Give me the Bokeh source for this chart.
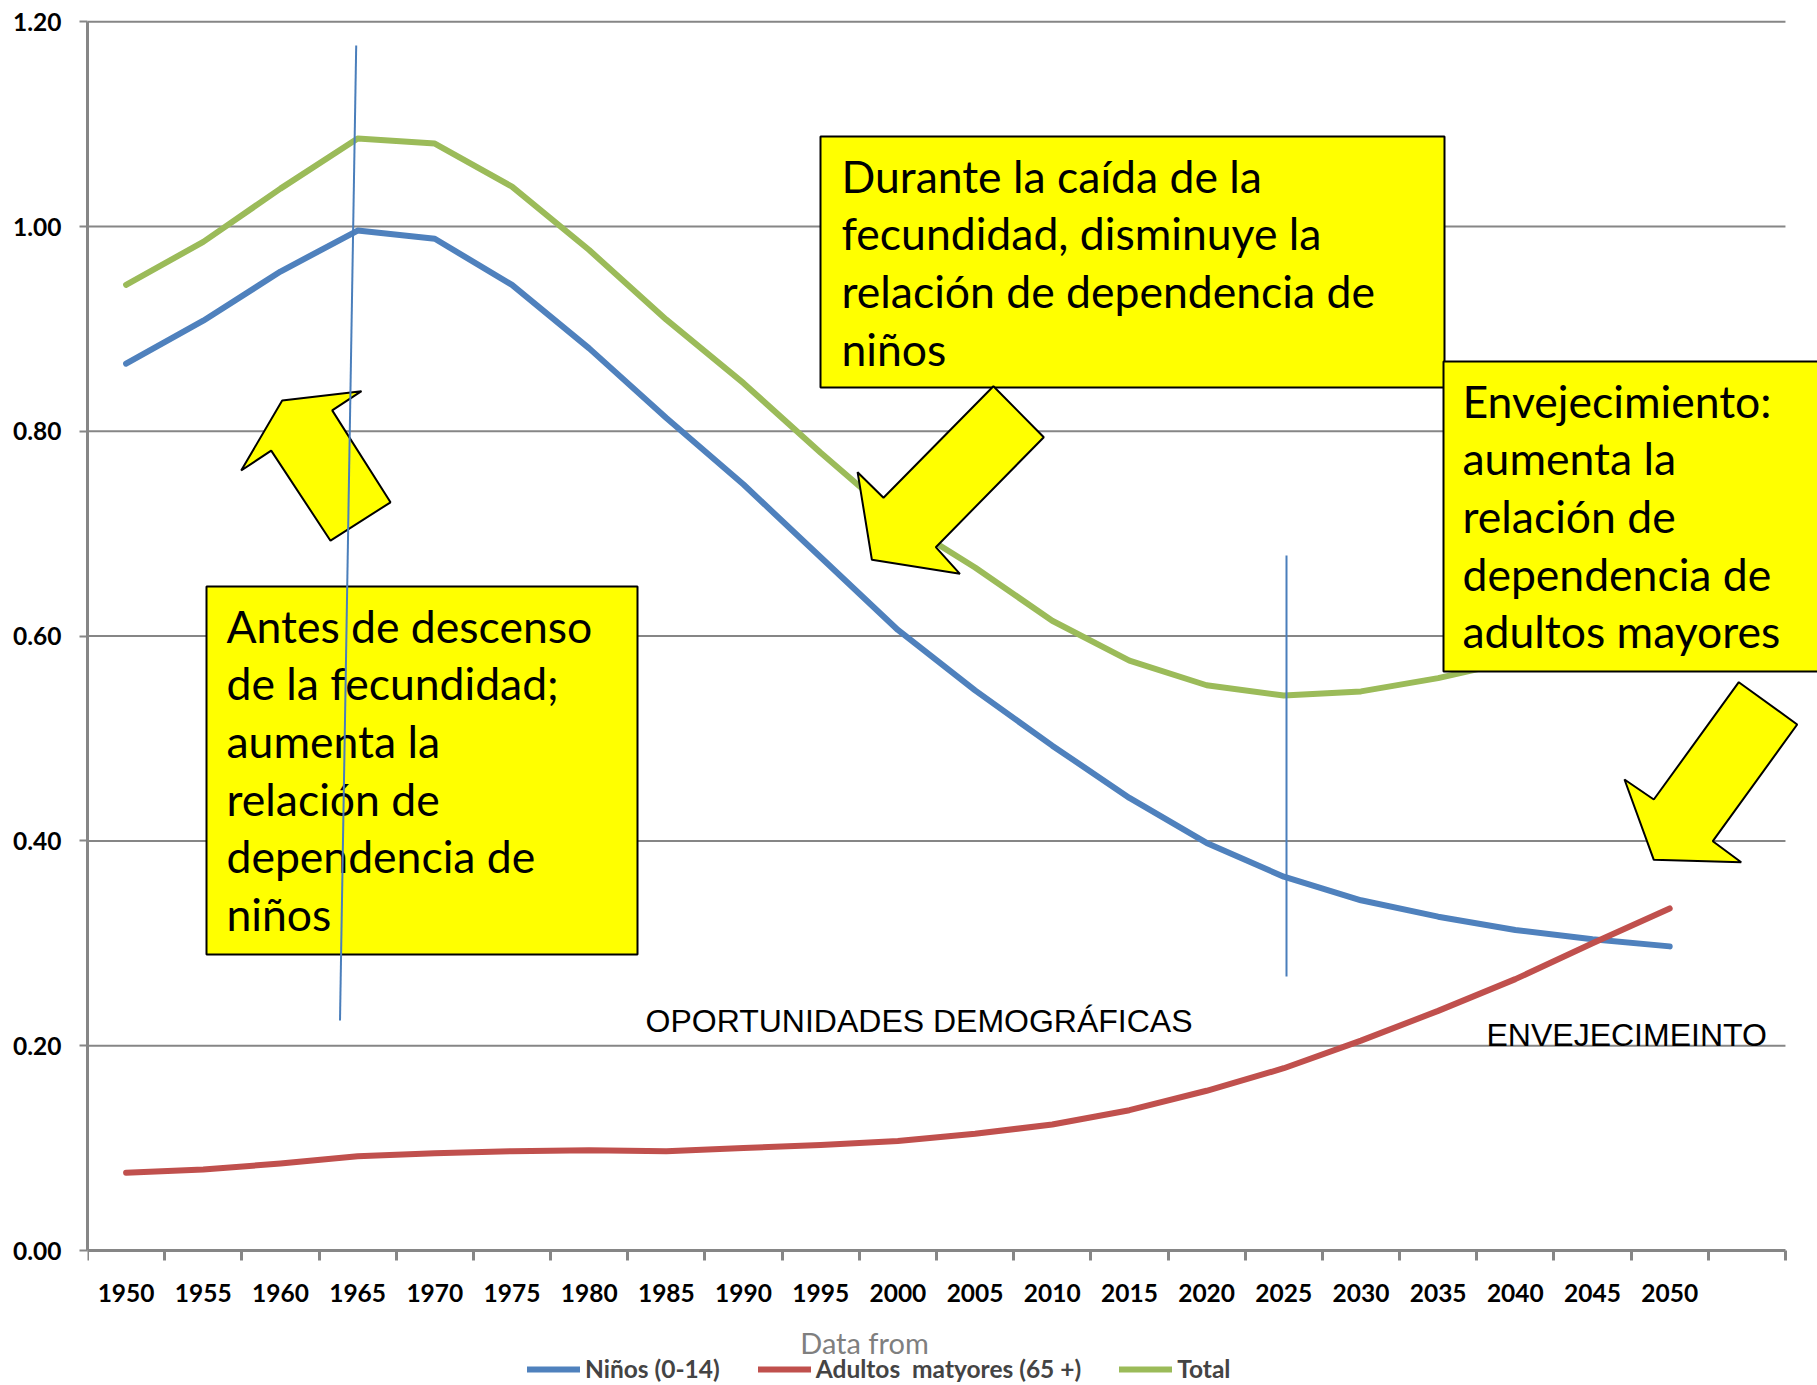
from bokeh.plotting import figure
from bokeh.models import Range1d, FixedTicker, NumeralTickFormatter, Legend, LegendItem
from bokeh.embed import file_html
from bokeh.resources import INLINE
from bokeh.core.properties import value

# ---------------- data ----------------
years = ["1950", "1955", "1960", "1965", "1970", "1975", "1980", "1985", "1990", "1995",
         "2000", "2005", "2010", "2015", "2020", "2025", "2030", "2035", "2040", "2045", "2050"]
ninos = [0.866, 0.908, 0.956, 0.996, 0.988, 0.943, 0.881, 0.813, 0.748, 0.677,
         0.606, 0.547, 0.493, 0.442, 0.398, 0.365, 0.342, 0.326, 0.313, 0.304, 0.297]
adultos = [0.076, 0.079, 0.085, 0.092, 0.095, 0.097, 0.098, 0.097, 0.100, 0.103,
           0.107, 0.114, 0.123, 0.137, 0.156, 0.178, 0.205, 0.234, 0.265, 0.300, 0.334]
total = [0.943, 0.985, 1.037, 1.086, 1.081, 1.039, 0.977, 0.909, 0.847, 0.779,
         0.714, 0.667, 0.615, 0.576, 0.552, 0.542, 0.546, 0.559, 0.576, 0.602, 0.633]
y_ticks = [0.0, 0.2, 0.4, 0.6, 0.8, 1.0, 1.2]
series_names = ["Niños (0-14)", "Adultos  matyores (65 +)", "Total"]

box1_lines = ["Antes de descenso", "de la fecundidad;", "aumenta  la", "relación de",
              "dependencia de", "niños"]
box2_lines = ["Durante la caída de la", "fecundidad, disminuye la",
              "relación de dependencia de", "niños"]
box3_lines = ["Envejecimiento:", "aumenta la", "relación de", "dependencia de",
              "adultos mayores"]
label_oport = "OPORTUNIDADES DEMOGRÁFICAS"
label_env = "ENVEJECIMEINTO"
label_source = "Data from"

# ---------------- layout helpers ----------------
W, H = 1817, 1385
FRAME_L, FRAME_T = 87, 11
ZERO_Y = 1250          # page y of value 0
SLOT = 77.18           # px per category slot
PPU = 1024.0           # px per unit of y
x_end = -0.5 + (W - FRAME_L) / SLOT
y_start = -(H - ZERO_Y) / PPU
y_end = (ZERO_Y - FRAME_T) / PPU


def dx(px):
    return (px - FRAME_L) / SLOT - 0.5


def dy(py):
    return (ZERO_Y - py) / PPU


GRAY = "#868686"
BLUE = "#4f81bd"
RED = "#c0504d"
GREEN = "#9bbb59"
YELLOW = "#ffff00"
TICK_FONT = "Lato"

p = figure(width=W, height=H, x_range=Range1d(-0.5, x_end), y_range=Range1d(y_start, y_end),
           output_backend="svg", toolbar_location=None,
           min_border_left=FRAME_L, min_border_right=0, min_border_top=FRAME_T,
           min_border_bottom=0)
p.outline_line_color = None
p.xgrid.visible = False
p.ygrid.visible = False

n = len(years)
idx = list(range(n))

# x axis (drawn at y = 0 inside the frame)
xa = p.xaxis[0]
xa.fixed_location = 0
xa.ticker = FixedTicker(ticks=idx, minor_ticks=[i - 0.5 for i in range(n + 2)])
xa.major_label_overrides = {i: y for i, y in enumerate(years)}
xa.bounds = (-0.5, n + 0.5)
xa.major_tick_line_color = None
xa.major_tick_out = 10
xa.major_tick_in = 0
xa.minor_tick_line_color = GRAY
xa.minor_tick_line_width = 3
xa.minor_tick_out = 10
xa.minor_tick_in = 0
xa.axis_line_color = GRAY
xa.axis_line_width = 3
xa.major_label_text_font = TICK_FONT
xa.major_label_text_font_style = "bold"
xa.major_label_text_font_size = "24.5px"
xa.major_label_text_color = "black"
xa.major_label_standoff = 23

# y axis
ya = p.yaxis[0]
ya.ticker = FixedTicker(ticks=y_ticks)
ya.formatter = NumeralTickFormatter(format="0.00")
ya.bounds = (0, 1.2)
ya.major_tick_out = 8
ya.major_tick_in = 0
ya.major_tick_line_color = GRAY
ya.major_tick_line_width = 2
ya.minor_tick_line_color = None
ya.axis_line_color = GRAY
ya.axis_line_width = 3
ya.major_label_text_font = TICK_FONT
ya.major_label_text_font_style = "bold"
ya.major_label_text_font_size = "24.5px"
ya.major_label_text_color = "black"
ya.major_label_standoff = 18

# gridlines (horizontal, limited to axis extent)
gy = y_ticks[1:]
p.segment(x0=[-0.5] * len(gy), x1=[n + 0.5] * len(gy), y0=gy, y1=gy,
          line_color=GRAY, line_width=2)

# series
r1 = p.line(idx, ninos, line_color=BLUE, line_width=6, line_cap="round", line_join="round")
r2 = p.line(idx, adultos, line_color=RED, line_width=6, line_cap="round", line_join="round")
r3 = p.line(idx, total, line_color=GREEN, line_width=6, line_cap="round", line_join="round")

# boxes
p.quad(left=[dx(206), dx(820), dx(1443)], right=[dx(637), dx(1444), dx(1840)],
       top=[dy(586), dy(136), dy(361)], bottom=[dy(954), dy(387), dy(671)],
       fill_color=YELLOW, line_color="black", line_width=2)

# arrows
arrow1 = [(281.7, 399.9), (361, 390.7), (331.7, 409.9), (390, 501.8), (330, 540.2),
          (270.7, 450.1), (240.7, 470)]
arrow2 = [(992.9, 385.7), (1043.3, 436.7), (935.3, 546.7), (959.4, 573.3), (871.4, 559.3),
          (857.1, 471.7), (883, 497.3)]
arrow3 = [(1738.3, 681.7), (1796.7, 724), (1712.3, 840.7), (1740.7, 861.7), (1653.3, 859.3),
          (1624, 779), (1653.3, 799)]
arrows = [arrow1, arrow2, arrow3]
p.patches(xs=[[dx(a) for a, b in ar] for ar in arrows],
          ys=[[dy(b) for a, b in ar] for ar in arrows],
          fill_color=YELLOW, line_color="black", line_width=2)

# box texts
LINE = 57.7


def put_lines(lines, px, py0):
    p.text(x=[dx(px)] * len(lines), y=[dy(py0 + i * LINE) for i in range(len(lines))],
           text=lines, text_font=value("Lato"), text_font_size="44.5px",
           text_baseline="middle", text_align="left", text_color="black")


put_lines(box1_lines, 226, 624.5)
put_lines(box2_lines, 841, 174.5)
put_lines(box3_lines, 1462, 399.5)

p.text(x=[dx(645)], y=[dy(1020)], text=[label_oport], text_font=value("Liberation Sans"),
       text_font_size="32px", text_baseline="middle", text_align="left", text_color="black")
p.text(x=[dx(1486)], y=[dy(1034)], text=[label_env], text_font=value("Liberation Sans"),
       text_font_size="32px", text_baseline="middle", text_align="left", text_color="black")
p.text(x=[dx(864)], y=[dy(1342)], text=[label_source], text_font=value("Lato"),
       text_font_size="29px", text_baseline="middle", text_align="center", text_color="#7f7f7f")

# thin vertical blue lines
p.segment(x0=[dx(355.7), dx(1286)], y0=[dy(45), dy(555)],
          x1=[dx(339.5), dx(1286)], y1=[dy(1020), dy(976)],
          line_color="#4a7ebb", line_width=2)

# legend (inside the frame, below the axis)
legend = Legend(items=[LegendItem(label=series_names[0], renderers=[r1]),
                       LegendItem(label=series_names[1], renderers=[r2]),
                       LegendItem(label=series_names[2], renderers=[r3])],
                orientation="horizontal", location=(527 - FRAME_L, 2), padding=0, margin=0,
                spacing=38, glyph_width=53, glyph_height=28, label_standoff=5,
                label_text_font=TICK_FONT, label_text_font_style="bold",
                label_text_font_size="24.5px", border_line_color=None,
                background_fill_alpha=0)
p.add_layout(legend)

open("out.html", "w").write(file_html(p, INLINE))
